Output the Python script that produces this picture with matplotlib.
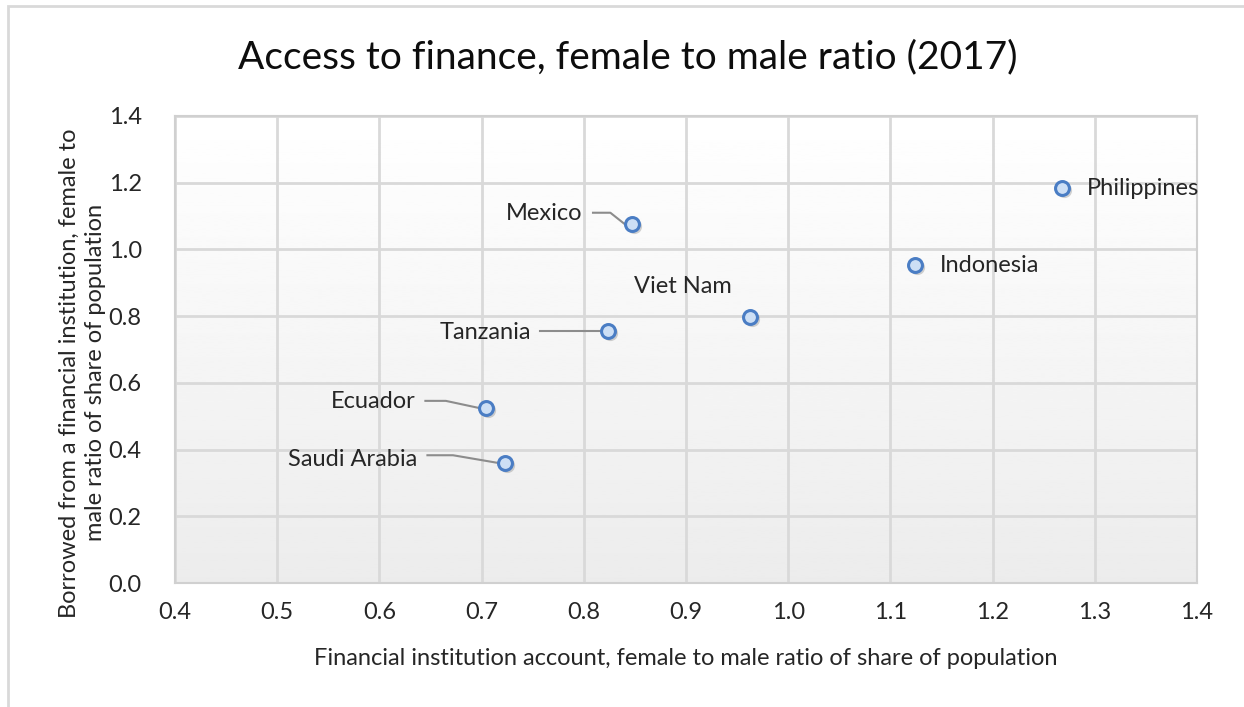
import numpy as np
import matplotlib
matplotlib.use("Agg")
import matplotlib.pyplot as plt
from matplotlib.patches import Rectangle

# data
countries = ["Philippines", "Indonesia", "Viet Nam", "Mexico", "Tanzania", "Ecuador", "Saudi Arabia"]
account_ratio = [1.268, 1.124, 0.963, 0.847, 0.824, 0.704, 0.723]
borrow_ratio = [1.184, 0.953, 0.797, 1.076, 0.755, 0.525, 0.360]

plt.rcParams["font.family"] = ["Lato", "DejaVu Sans"]

fig = plt.figure(figsize=(12.44, 7.07), dpi=100)
ax = fig.add_axes([175 / 1244, 1 - 583 / 707, (1197 - 175) / 1244, (583 - 116) / 707])

# outer chart border (left and top visible)
fig.add_artist(Rectangle((8 / 1244, -0.05), 1.2, 1 - 6 / 707 + 0.05, transform=fig.transFigure,
                         fill=False, edgecolor="#d9d9d9", linewidth=2))

# gradient plot background
grad = np.linspace(1.0, 0.925, 256).reshape(-1, 1)
ax.imshow(grad, cmap="gray", vmin=0, vmax=1, extent=[0, 1, 0, 1], transform=ax.transAxes,
          aspect="auto", zorder=0)

ax.set_xlim(0.4, 1.4)
ax.set_ylim(0.0, 1.4)
ax.set_xticks(np.arange(0.4, 1.41, 0.1))
ax.set_yticks(np.arange(0.0, 1.41, 0.2))
ax.set_xticklabels([f"{v:.1f}" for v in np.arange(0.4, 1.41, 0.1)])
ax.set_yticklabels([f"{v:.1f}" for v in np.arange(0.0, 1.41, 0.2)])
ax.grid(True, color="#d9d9d9", linewidth=2, zorder=1)
ax.set_axisbelow(True)
for s in ax.spines.values():
    s.set_color("#d0d0d0")
    s.set_linewidth(1.5)
ax.tick_params(length=0, labelsize=17, colors="#262626")
ax.tick_params(axis="x", pad=14)
ax.tick_params(axis="y", pad=24)

# markers with soft shadow
ax.scatter(np.array(account_ratio) + 0.002, np.array(borrow_ratio) - 0.006, s=120,
           color="#7f7f7f", alpha=0.35, linewidths=0, zorder=3)
ax.scatter(account_ratio, borrow_ratio, s=100, facecolor="#cddff5", edgecolor="#4a7dc4",
           linewidths=2.2, zorder=4)

# labels: text x, text y, alignment, leader line bend points
label_pos = {
    "Philippines": (1.292, 1.184, "left", None),
    "Indonesia": (1.148, 0.953, "left", None),
    "Viet Nam": (0.897, 0.890, "center", None),
    "Mexico": (0.799, 1.108, "right", [(0.809, 1.110), (0.826, 1.110)]),
    "Tanzania": (0.748, 0.752, "right", [(0.757, 0.755)]),
    "Ecuador": (0.635, 0.543, "right", [(0.645, 0.546), (0.665, 0.546)]),
    "Saudi Arabia": (0.637, 0.369, "right", [(0.647, 0.383), (0.672, 0.383)]),
}
for name, x, y in zip(countries, account_ratio, borrow_ratio):
    tx, ty, ha, leader = label_pos[name]
    ax.text(tx, ty, name, ha=ha, va="center", fontsize=17, color="#262626", zorder=5)
    if leader:
        lx = [p[0] for p in leader] + [x - 0.007]
        ly = [p[1] for p in leader] + [y]
        ax.plot(lx, ly, color="#8c8c8c", linewidth=1.5, zorder=2)

ax.set_xlabel("Financial institution account, female to male ratio of share of population",
              fontsize=17, color="#262626", labelpad=18)
ax.set_ylabel("Borrowed from a financial institution, female to\nmale ratio of share of population",
              fontsize=17, color="#262626", linespacing=1.25)
ax.yaxis.set_label_coords(-0.068, 0.45)
fig.text(628 / 1244, 1 - 57 / 707, "Access to finance, female to male ratio (2017)",
         ha="center", va="center", fontsize=28, color="#0d0d0d")

fig.savefig("out.png", dpi=100)
